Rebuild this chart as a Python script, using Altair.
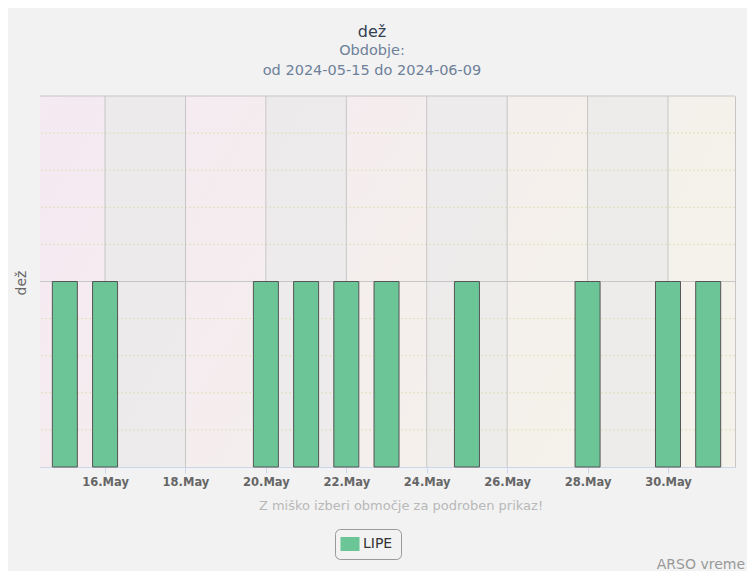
import altair as alt
import pandas as pd

# ---- data ----
bar_dates = ["2024-05-15", "2024-05-16", "2024-05-20", "2024-05-21", "2024-05-22",
             "2024-05-23", "2024-05-25", "2024-05-28", "2024-05-30", "2024-05-31"]
bar_values = [1, 1, 1, 1, 1, 1, 1, 1, 1, 1]
station = "LIPE"
tick_dates = ["2024-05-16", "2024-05-18", "2024-05-20", "2024-05-22",
              "2024-05-24", "2024-05-26", "2024-05-28", "2024-05-30"]
band_starts = ["2024-05-16", "2024-05-20", "2024-05-24", "2024-05-28"]
band_ends = ["2024-05-18", "2024-05-22", "2024-05-26", "2024-05-30"]
minor_y = [0.2, 0.4, 0.6, 0.8, 1.2, 1.4, 1.6, 1.8]
major_y = [1, 2]

title_text = "dež"
subtitle_lines = ["Obdobje:", "od 2024-05-15 do 2024-06-09"]
y_title = "dež"
hint_text = "Z miško izberi območje za podroben prikaz!"
credit_text = "ARSO vreme"

W, H = 695, 371
FONT = "DejaVu Sans"


def dt(s, hours=0, minutes=0):
    y, m, d = (int(p) for p in s.split("-"))
    return alt.DateTime(year=y, month=m, date=d, hours=hours, minutes=minutes, utc=True)


xscale = alt.Scale(type="utc", nice=False, padding=0,
                   domain=[dt("2024-05-14", 9, 10), dt("2024-05-31", 16, 0)])
yscale = alt.Scale(domain=[0, 2], nice=False, zero=True, padding=0)

xaxis = alt.Axis(values=[dt(s) for s in tick_dates], format="%d.%b", title=None,
                 grid=False, domainColor="#ccd6eb", tickColor="#ccd6eb", tickSize=6,
                 labelFont=FONT, labelFontSize=11.5, labelFontWeight="bold",
                 labelColor="#666666", labelPadding=3, labelOverlap=False,
                 labelFlush=False)
yaxis = alt.Axis(values=[0, 1, 2], labels=False, ticks=False, grid=False,
                 domainColor="#ccd6eb", title=None)

bars_df = pd.DataFrame({"date": bar_dates, "value": bar_values, "station": [station] * len(bar_dates)})
bands_df = pd.DataFrame({"start": band_starts, "end": band_ends})
ticks_df = pd.DataFrame({"d": tick_dates})
minor_df = pd.DataFrame({"v": minor_y})
major_df = pd.DataFrame({"v": major_y})
one = pd.DataFrame({"a": [0]})

bg = alt.Chart(one).mark_rect(
    color=alt.Gradient(
        gradient="linear",
        stops=[alt.GradientStop(color="#f5e9f2", offset=0),
               alt.GradientStop(color="#f4f2ea", offset=1)],
        x1=0, x2=1, y1=0, y2=0.3,
    )
).encode(x=alt.value(0), x2=alt.value(W), y=alt.value(0), y2=alt.value(H))

bands = alt.Chart(bands_df).mark_rect(color="#e9e9ea", opacity=0.7).encode(
    x=alt.X("start:T", scale=xscale, axis=xaxis),
    x2="end:T",
    y=alt.value(0), y2=alt.value(H),
)

minor = alt.Chart(minor_df).mark_rule(color="#d6dca6", strokeWidth=1, strokeDash=[1.5, 2.5]).encode(
    y=alt.Y("v:Q", scale=yscale, axis=yaxis)
)

major = alt.Chart(major_df).mark_rule(color="#c6c6c6", strokeWidth=1).encode(
    y=alt.Y("v:Q", scale=yscale, axis=yaxis)
)

vgrid = alt.Chart(ticks_df).mark_rule(color="#c6c6c6", strokeWidth=1).encode(
    x=alt.X("d:T", scale=xscale, axis=xaxis)
)

bars = alt.Chart(bars_df).mark_bar(size=25, stroke="#555555", strokeWidth=1).encode(
    x=alt.X("date:T", scale=xscale, axis=xaxis),
    y=alt.Y("value:Q", scale=yscale, axis=yaxis),
    color=alt.Color("station:N", scale=alt.Scale(range=["#6cc597"]),
                    legend=alt.Legend(orient="none", legendX=295, legendY=433, title=None,
                                      strokeColor="#999999", cornerRadius=5, padding=8,
                                      symbolType="M-1.36,-1H1.36V1H-1.36Z", symbolSize=196,
                                      symbolStrokeWidth=0, symbolOpacity=1,
                                      labelFont=FONT, labelFontSize=14, labelColor="#333333",
                                      labelOffset=6)),
)


def txt(s, x, y, size, color, align="center", angle=0, weight="normal"):
    return alt.Chart(one).mark_text(
        text=s, font=FONT, fontSize=size, color=color, align=align,
        baseline="alphabetic", angle=angle, fontWeight=weight,
    ).encode(x=alt.value(x), y=alt.value(y))


texts = [
    txt(title_text, 332, -59, 16, "#333e50"),
    txt(subtitle_lines[0], 332, -41, 14.5, "#6e819a"),
    txt(subtitle_lines[1], 332, -21, 14.5, "#6e819a"),
    txt(hint_text, 361, 414, 13, "#b8b8b8"),
    txt(credit_text, 705, 473, 14, "#999999", align="right"),
    alt.Chart(one).mark_text(text=y_title, font=FONT, fontSize=14, color="#666666",
                             align="center", baseline="middle", angle=270).encode(
        x=alt.value(-18), y=alt.value(187)),
]

chart = alt.layer(bg, bands, minor, major, vgrid, bars, *texts).properties(
    width=W, height=H,
    autosize=alt.AutoSizeParams(type="none"),
    padding={"left": 32, "top": 88, "right": 12, "bottom": 104},
).configure(background="#f2f2f2").configure_view(stroke="#c6c6c6", strokeWidth=1)

chart.save("out.html", embed_options={"renderer": "svg", "actions": False})
